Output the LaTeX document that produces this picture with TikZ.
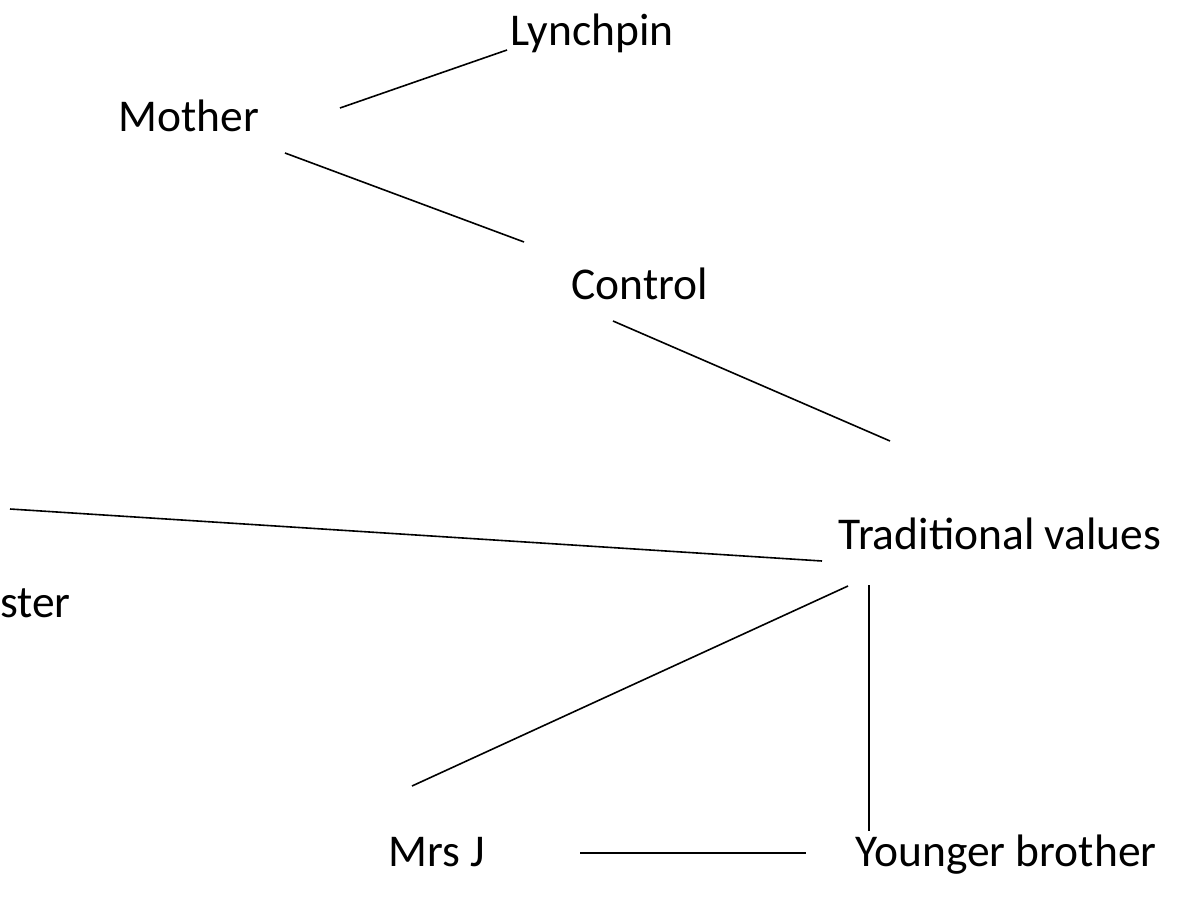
\documentclass[tikz,border=0pt]{standalone}
\usepackage{fontspec}
\setmainfont{Carlito}
\usetikzlibrary{calc}

\tikzset{
	word/.style={inner sep=0pt,anchor=base,font=\fontsize{45.5}{54}\selectfont},
	link/.style={line width=1.6pt}
}

\begin{document}
\begin{tikzpicture}[x=1pt,y=-1pt]
	\useasboundingbox (0,0) rectangle (1190,901);

	\node[word] (lynchpin) at (592,46) {Lynchpin};
	\node[word] (mother) at (189,132) {Mother};
	\node[word] (control) at (640,299) {Control};
	\node[word] (values) at (1000,549) {Traditional values};
	\node[word,anchor=base west] (sister) at (0,617) {ster};
	\node[word] (mrsj) at (437,866) {Mrs J};
	\node[word] (brother) at (1006,866) {Younger brother};

	% free line ends
	\coordinate (m1) at (340,108);
	\coordinate (l1) at (507,50);
	\coordinate (m2) at (285,153);
	\coordinate (c1) at (524,242);
	\coordinate (c2) at (613,321);
	\coordinate (v1) at (890,441);
	\coordinate (s1) at (10,509);
	\coordinate (v2) at (822,561);
	\coordinate (v3) at (848,586);
	\coordinate (j1) at (412,786);
	\coordinate (v4) at (869,585);
	\coordinate (b1) at (869,831);
	\coordinate (j2) at (580,853);
	\coordinate (b2) at (806,853);

	\draw[link] (m1) -- (l1);
	\draw[link] (m2) -- (c1);
	\draw[link] (c2) -- (v1);
	\draw[link] (s1) -- (v2);
	\draw[link] (v3) -- (j1);
	\draw[link] (v4) -- (b1);
	\draw[link] (j2) -- (b2);
\end{tikzpicture}
\end{document}
